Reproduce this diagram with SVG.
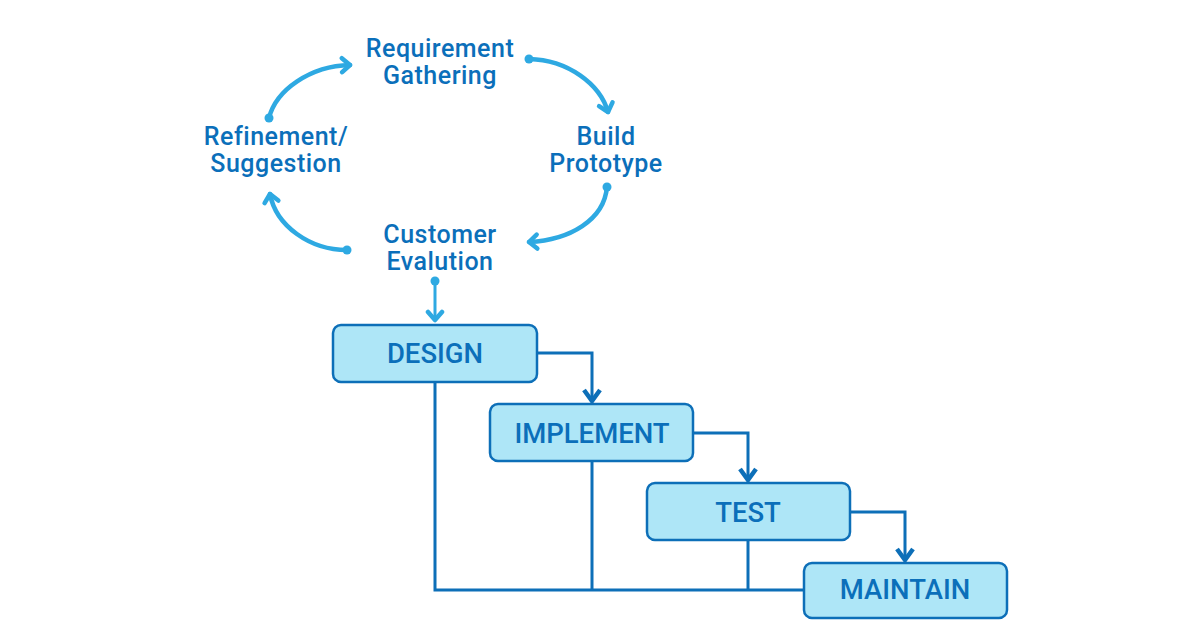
<svg xmlns="http://www.w3.org/2000/svg" width="1200" height="630" viewBox="0 0 1200 630">
<defs>
<style>
.t{font-family:Roboto,"Liberation Sans",sans-serif;font-weight:500;fill:#0b6fba;text-anchor:middle}
.ct{font-size:25px;letter-spacing:0.5px}
.bt{font-size:27.5px}
.box{fill:#aee6f7;stroke:#0d6fb8;stroke-width:2.5}
.cyc{fill:none;stroke:#2ea9e2;stroke-width:4.5;stroke-linecap:round}
.dot{fill:#2ea9e2}
.wf{fill:none;stroke:#0d6fb8;stroke-width:3}
</style>
<marker id="ahL" markerUnits="userSpaceOnUse" viewBox="-12 -10 16 20" refX="0" refY="0" markerWidth="16" markerHeight="20" orient="auto">
<path d="M-8,-7 L0,0 L-8,7" fill="none" stroke="#2ea9e2" stroke-width="4.5" stroke-linecap="round" stroke-linejoin="round"/>
</marker>
<marker id="ahD" markerUnits="userSpaceOnUse" viewBox="-14 -10 16 20" refX="0" refY="0" markerWidth="16" markerHeight="20" orient="auto">
<path d="M-11,-8 L0,0 L-11,8" fill="none" stroke="#0d6fb8" stroke-width="4.5" stroke-linejoin="miter"/>
</marker>
</defs>
<rect width="1200" height="630" fill="#ffffff"/>
<g id="connectors">
<path class="cyc" d="M269,118 C276,90 310,66 350,65" marker-end="url(#ahL)"/>
<circle class="dot" cx="269" cy="118" r="4.5"/>
<path class="cyc" d="M529,59 C568,60 600,84 608,112" marker-end="url(#ahL)"/>
<circle class="dot" cx="529" cy="59" r="4.5"/>
<path class="cyc" d="M607,187 C604,220 570,240 529,242" marker-end="url(#ahL)"/>
<circle class="dot" cx="607" cy="187" r="4.5"/>
<path class="cyc" d="M347,250 C310,250 276,226 270,194" marker-end="url(#ahL)"/>
<circle class="dot" cx="347" cy="250" r="4.5"/>
<path fill="none" stroke="#2ea9e2" stroke-width="3" d="M435,281 L435,320" marker-end="url(#ahL)"/>
<circle class="dot" cx="435" cy="281" r="4.5"/>
<path class="wf" d="M537,353 L592,353 L592,401" marker-end="url(#ahD)"/>
<path class="wf" d="M693,433 L748,433 L748,480" marker-end="url(#ahD)"/>
<path class="wf" d="M850,512 L905,512 L905,560" marker-end="url(#ahD)"/>
<path class="wf" d="M435,382 L435,590 L804,590"/>
<path class="wf" d="M592,461 L592,590"/>
<path class="wf" d="M748,540 L748,590"/>
</g>
<g id="requirement"><text class="t ct" x="440" y="57">Requirement</text><text class="t ct" x="440" y="84">Gathering</text></g>
<g id="build"><text class="t ct" x="606" y="145">Build</text><text class="t ct" x="606" y="172">Prototype</text></g>
<g id="customer"><text class="t ct" x="440" y="243">Customer</text><text class="t ct" x="440" y="270">Evalution</text></g>
<g id="refinement"><text class="t ct" x="276" y="145">Refinement/</text><text class="t ct" x="276" y="172">Suggestion</text></g>
<g id="design"><rect class="box" x="333" y="325" width="204" height="57" rx="8"/><text class="t bt" x="435" y="363">DESIGN</text></g>
<g id="implement"><rect class="box" x="490" y="404" width="203" height="57" rx="8"/><text class="t bt" x="592" y="443">IMPLEMENT</text></g>
<g id="test"><rect class="box" x="647" y="483" width="203" height="57" rx="8"/><text class="t bt" x="748" y="522">TEST</text></g>
<g id="maintain"><rect class="box" x="804" y="563" width="203" height="55" rx="8"/><text class="t bt" x="905" y="599">MAINTAIN</text></g>
</svg>
